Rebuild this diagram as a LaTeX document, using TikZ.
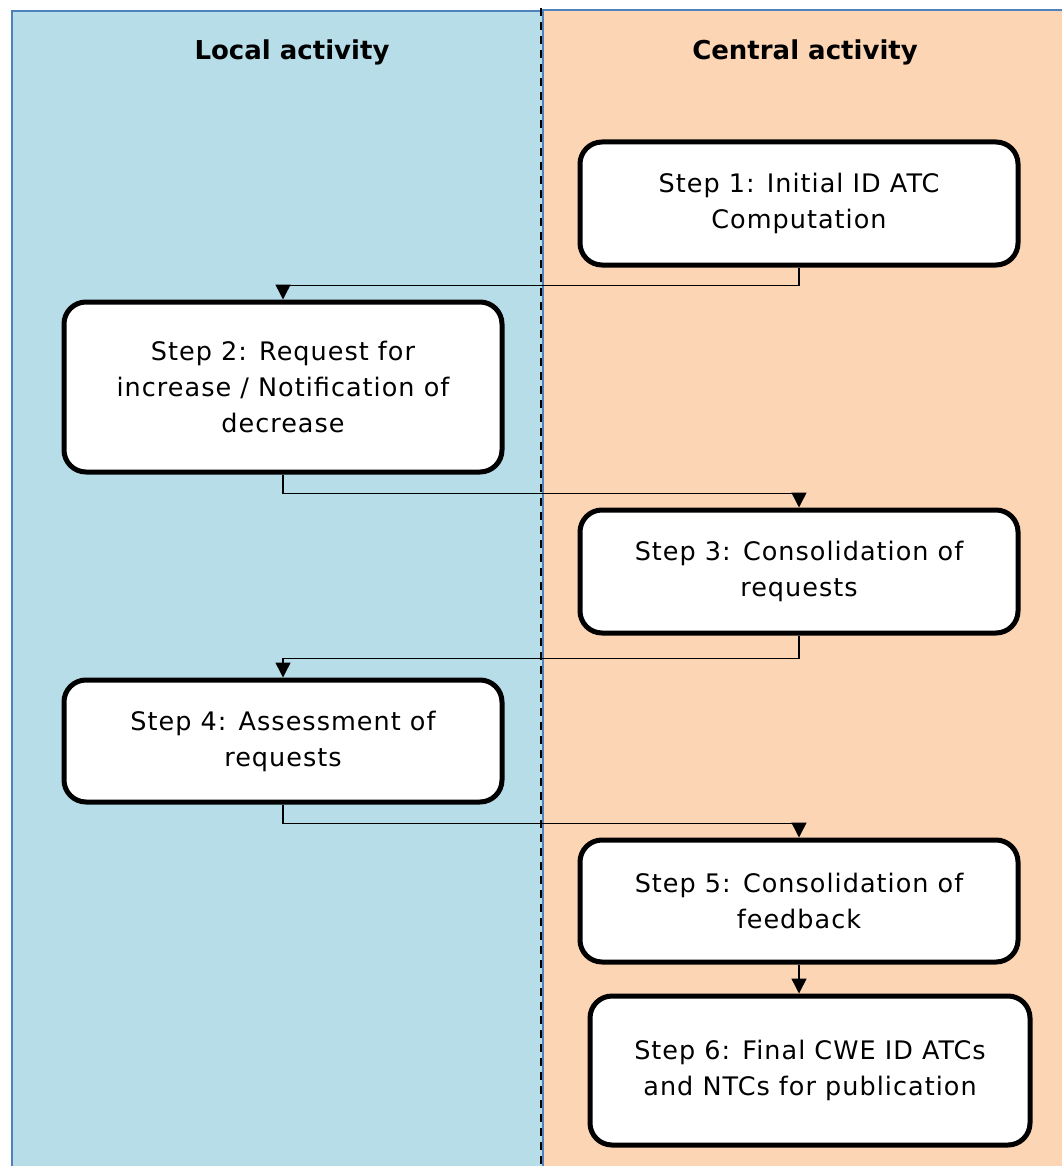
\documentclass[tikz,border=0pt]{standalone}
\usepackage{fontspec}
\setmainfont{DejaVu Sans}
\usetikzlibrary{arrows.meta}
\definecolor{laneblue}{HTML}{B7DDE8}
\definecolor{laneorange}{HTML}{FCD5B5}
\definecolor{edgeblue}{HTML}{4F81BD}
\tikzset{
  stepbox/.style={draw=black, line width=5pt, rounded corners=22pt, fill=white,
    align=center, font=\fontsize{25.5}{36}\selectfont\addfontfeatures{LetterSpace=4}, inner sep=0pt},
  flow/.style={draw=black, line width=1.5pt, -{Triangle[length=15pt,width=15pt]}},
  lanetitle/.style={font=\fontsize{26}{30}\selectfont\bfseries}
}
\begin{document}
\begin{tikzpicture}[x=1pt,y=-1pt]
\useasboundingbox (0,0) rectangle (1061,1166);
\fill[white] (0,0) rectangle (1061,1166);
% lanes
\filldraw[fill=laneblue, draw=edgeblue, line width=1.5pt] (12,1170) -- (12,11) -- (543,11) -- (543,1170);
\filldraw[fill=laneorange, draw=edgeblue, line width=1.5pt] (543,1170) -- (543,10) -- (1065,10) -- (1065,1170);
\draw[black, line width=2pt, dash pattern=on 8pt off 6pt] (541,8) -- (541,1166);
% titles
\node[lanetitle] (tl) at (292,52) {Local activity};
\node[lanetitle] (tc) at (805,52) {Central activity};
% steps
\node[stepbox, minimum width=438pt, minimum height=123pt] (s1) at (799,203.5) {Step 1: Initial ID ATC\\Computation};
\node[stepbox, minimum width=438pt, minimum height=170pt] (s2) at (283,387) {Step 2: Request for\\increase / Notification of\\decrease};
\node[stepbox, minimum width=438pt, minimum height=123pt] (s3) at (799,571.5) {Step 3: Consolidation of\\requests};
\node[stepbox, minimum width=438pt, minimum height=122pt] (s4) at (283,741) {Step 4: Assessment of\\requests};
\node[stepbox, minimum width=438pt, minimum height=122pt] (s5) at (799,901) {Step 5: Consolidation of\\feedback};
\node[stepbox, minimum width=440pt, minimum height=149pt] (s6) at (810,1070.5) {Step 6: Final CWE ID ATCs\\and NTCs for publication};
% connectors
\draw[flow] (s1.south) -- ++(0,18) -| (s2.north);
\draw[flow] (s2.south) -- ++(0,19) -| (s3.north);
\draw[flow] (s3.south) -- ++(0,23) -| (s4.north);
\draw[flow] (s4.south) -- ++(0,19) -| (s5.north);
\draw[flow] (s5.south) -- (s5.south |- s6.north);
\end{tikzpicture}
\end{document}
